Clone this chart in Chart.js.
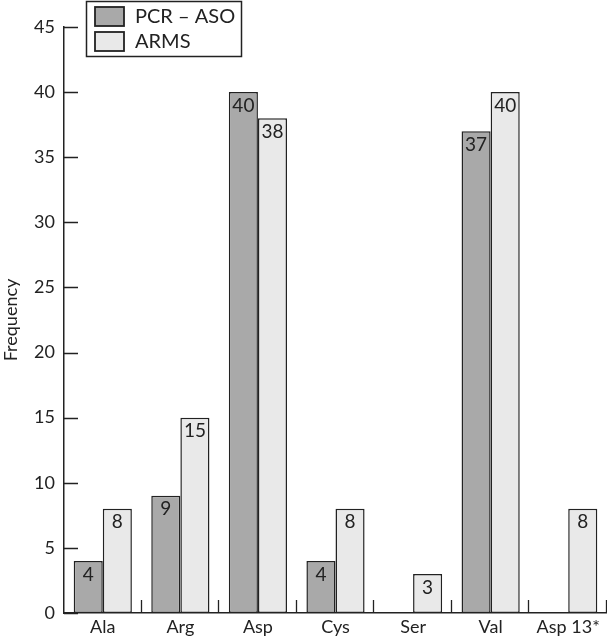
<!DOCTYPE html>
<html>
<head>
<meta charset="utf-8">
<style>
  html, body { margin: 0; padding: 0; background: #fff; }
  #wrap { width: 607px; height: 639px; }
</style>
<script src="https://cdn.jsdelivr.net/npm/chart.js@4/dist/chart.umd.min.js"></script>
</head>
<body>
<div id="wrap"><canvas id="chart"></canvas></div>
<script>
// data
var categories = ["Ala", "Arg", "Asp", "Cys", "Ser", "Val", "Asp 13*"];
var pcrAso = [4, 9, 40, 4, null, 37, null];
var arms = [8, 15, 38, 8, 3, 40, 8];
var yTicks = [0, 5, 10, 15, 20, 25, 30, 35, 40, 45];

var FONT = "Lato, 'DejaVu Sans', sans-serif";
var INK = "#222";

// inward tick marks on both axes
var innerTicks = {
  id: 'innerTicks',
  afterDraw: function(chart) {
    var c = chart.ctx, a = chart.chartArea;
    var y = chart.scales.y;
    c.save();
    c.strokeStyle = INK;
    c.lineWidth = 1.3;
    c.beginPath();
    yTicks.forEach(function(t) {
      var py = Math.round(y.getPixelForValue(t)) + 0.5;
      c.moveTo(a.left, py);
      c.lineTo(a.left + 14, py);
    });
    var w = (a.right - a.left) / categories.length;
    for (var i = 1; i <= categories.length; i++) {
      var px = Math.round(a.left + i * w) - 0.5;
      c.moveTo(px, a.bottom);
      c.lineTo(px, a.bottom - 13);
    }
    c.stroke();
    c.restore();
  }
};

// numbers written just inside the top of each bar
var barValues = {
  id: 'barValues',
  afterDatasetsDraw: function(chart) {
    var c = chart.ctx;
    c.save();
    c.fillStyle = INK;
    c.font = "19px " + FONT;
    c.textAlign = 'center';
    c.textBaseline = 'top';
    chart.data.datasets.forEach(function(ds, i) {
      chart.getDatasetMeta(i).data.forEach(function(bar, j) {
        var v = ds.data[j];
        if (v == null) return;
        c.fillText(String(v), bar.x, bar.y + 4);
      });
    });
    c.restore();
  }
};

// boxed legend in the top-left corner
var boxLegend = {
  id: 'boxLegend',
  afterDraw: function(chart) {
    var c = chart.ctx;
    c.save();
    c.lineWidth = 1.5;
    c.strokeStyle = INK;
    c.fillStyle = '#fff';
    c.fillRect(86, 1, 156, 56);
    c.strokeRect(86.5, 1.5, 155, 55);
    c.font = "20px " + FONT;
    c.textBaseline = 'middle';
    chart.data.datasets.forEach(function(ds, i) {
      var top = 7 + i * 25;
      c.fillStyle = ds.backgroundColor;
      c.fillRect(95, top, 29, 19);
      c.lineWidth = 1.8;
      c.strokeRect(95, top, 29, 19);
      c.fillStyle = INK;
      c.fillText(ds.label, 135, top + 10);
    });
    c.restore();
  }
};

new Chart(document.getElementById('chart'), {
  type: 'bar',
  data: {
    labels: categories,
    datasets: [
      {
        label: "PCR \u2013 ASO",
        data: pcrAso,
        backgroundColor: "#a9a9a9",
        borderColor: INK,
        borderWidth: 1.5,
        borderSkipped: false,
        categoryPercentage: 0.75,
        barPercentage: 1.0
      },
      {
        label: "ARMS",
        data: arms,
        backgroundColor: "#e9e9e9",
        borderColor: INK,
        borderWidth: 1.5,
        borderSkipped: false,
        categoryPercentage: 0.75,
        barPercentage: 1.0
      }
    ]
  },
  options: {
    responsive: true,
    maintainAspectRatio: false,
    animation: false,
    layout: { padding: { top: 27, right: 0, left: 0, bottom: 0 } },
    plugins: {
      legend: { display: false },
      tooltip: { enabled: false }
    },
    scales: {
      x: {
        grid: { display: false, drawTicks: false },
        border: { display: true, color: INK, width: 1.5 },
        ticks: { color: INK, font: { family: FONT, size: 18 }, padding: 3, maxRotation: 0 },
        afterFit: function(s) { s.height = 26; }
      },
      y: {
        min: 0,
        max: 45,
        grid: { display: false, drawTicks: false },
        border: { display: true, color: INK, width: 1.5 },
        ticks: { stepSize: 5, color: INK, font: { family: FONT, size: 18 }, padding: 9 },
        title: { display: true, text: "Frequency", color: INK, font: { family: FONT, size: 18 }, padding: 0 },
        afterFit: function(s) { s.width = 64; }
      }
    }
  },
  plugins: [innerTicks, barValues, boxLegend]
});
</script>
</body>
</html>
